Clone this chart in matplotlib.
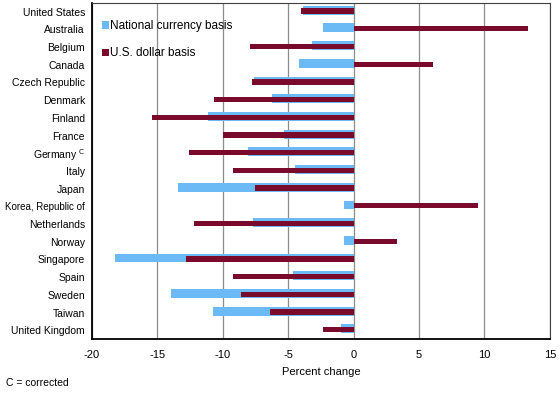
import numpy as np
import matplotlib.pyplot as plt

plt.rcParams['font.family'] = ['Liberation Sans', 'DejaVu Sans']
plt.rcParams['axes.unicode_minus'] = False

countries = ["United States", "Australia", "Belgium", "Canada", "Czech Republic",
             "Denmark", "Finland", "France", "Germany $^{\\mathrm{C}}$", "Italy", "Japan",
             "Korea, Republic of", "Netherlands", "Norway", "Singapore", "Spain",
             "Sweden", "Taiwan", "United Kingdom"]
national = [-3.9, -2.35, -3.2, -4.2, -7.6, -6.2, -11.15, -5.35, -8.1, -4.5, -13.4,
            -0.7, -7.65, -0.7, -18.2, -4.6, -13.95, -10.75, -0.95]
usdollar = [-4.0, 13.3, -7.9, 6.1, -7.8, -10.7, -15.4, -10.0, -12.55, -9.25, -7.5,
            9.5, -12.2, 3.3, -12.8, -9.25, -8.6, -6.4, -2.3]

blue = '#6cbaf5'
maroon = '#7a0a2c'

fig = plt.figure(figsize=(5.6, 3.98), dpi=100)
ax = fig.add_axes([0.164, 0.148, 0.818, 0.845])

y = np.arange(len(countries))
ax.barh(y - 0.08, national, height=0.5, color=blue, label='National currency basis', zorder=2)
ax.barh(y - 0.03, usdollar, height=0.3, color=maroon, label='U.S. dollar basis', zorder=3)

ax.set_xlim(-20, 15)
ax.set_ylim(len(countries) - 0.5, -0.5)
ax.set_xticks(range(-20, 16, 5))
ax.set_yticks(y)
ax.set_yticklabels(countries, fontsize=7.5)
for lab in ax.get_yticklabels():
    if lab.get_text().startswith('Korea'):
        lab.set_fontsize(7.0)
ax.tick_params(axis='x', labelsize=8, length=0, pad=8)
ax.tick_params(axis='y', length=0, pad=5)
ax.xaxis.grid(True, color='#8c8c8c', linewidth=0.9, zorder=0)
ax.set_xlabel('Percent change', fontsize=8, labelpad=5)

for side in ['top', 'right']:
    ax.spines[side].set_color('#404040')
    ax.spines[side].set_linewidth(0.8)
for side in ['left', 'bottom']:
    ax.spines[side].set_color('black')
    ax.spines[side].set_linewidth(1.3)

ax.legend(loc='upper left', bbox_to_anchor=(0.0, 0.98), frameon=False, fontsize=8.5,
          handlelength=0.55, handleheight=0.55, handletextpad=0.1, labelspacing=1.3)

fig.text(0.01, 0.03, 'C = corrected', fontsize=7.5)

plt.savefig('out.png')
